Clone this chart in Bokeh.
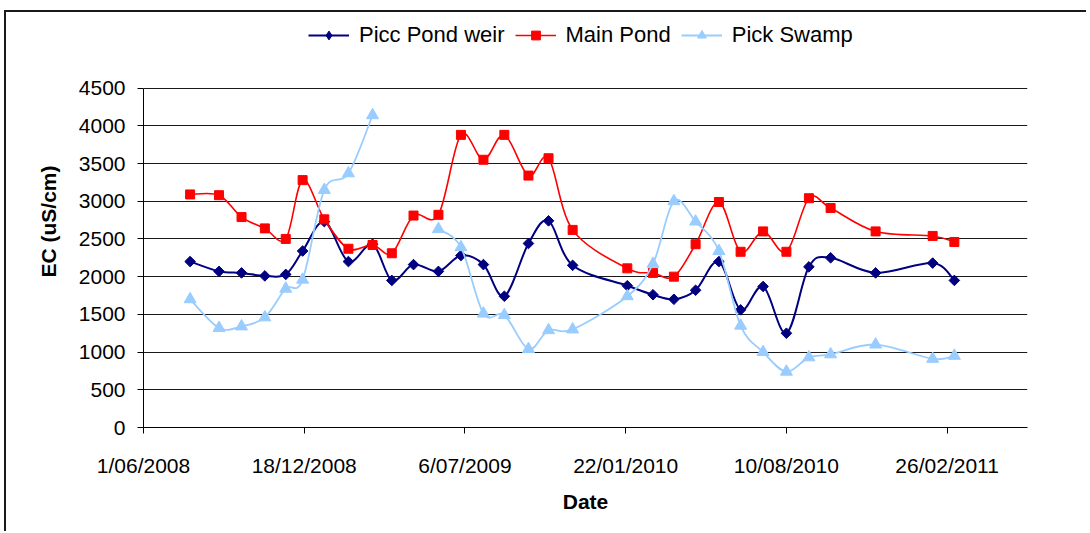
import math
import numpy as np
import pandas as pd
from bokeh.plotting import figure
from bokeh.models import (ColumnDataSource, FixedTicker, CustomJSTickFormatter, Range1d,
                          Legend, LegendItem)
from bokeh.embed import file_html
from bokeh.resources import INLINE

# ---------------- data ----------------
dates = ["2008-07-29", "2008-09-03", "2008-10-01", "2008-10-30", "2008-11-25", "2008-12-16",
         "2009-01-12", "2009-02-11", "2009-03-13", "2009-04-06", "2009-05-03", "2009-06-03",
         "2009-07-01", "2009-07-29", "2009-08-24", "2009-09-23", "2009-10-18", "2009-11-17",
         "2010-01-24", "2010-02-25", "2010-03-23", "2010-04-19", "2010-05-18", "2010-06-14",
         "2010-07-12", "2010-08-10", "2010-09-07", "2010-10-04", "2010-11-29", "2011-02-08",
         "2011-03-07"]
picc_pond_weir = [2200, 2070, 2050, 2010, 2030, 2340, 2730, 2200, 2430, 1950, 2160, 2070,
                  2280, 2160, 1740, 2440, 2740, 2150, 1880, 1760, 1700, 1820, 2200, 1560,
                  1870, 1250, 2130, 2250, 2050, 2180, 1950]
main_pond = [3090, 3080, 2790, 2640, 2500, 3280, 2760, 2370, 2420, 2310, 2810, 2820,
             3880, 3550, 3880, 3340, 3570, 2620, 2110, 2050, 2000, 2430, 2990, 2330,
             2600, 2330, 3040, 2910, 2600, 2540, 2460]
pick_swamp = [1700, 1320, 1340, 1460, 1840, 1960, 3150, 3370, 4140, None, None, 2630,
              2390, 1510, 1490, 1040, 1290, 1300, 1740, 2170, 3000, 2730, 2340, 1350,
              1000, 740, 930, 970, 1100, 910, 950]
series_names = ["Picc Pond weir", "Main Pond", "Pick Swamp"]
x_tick_labels = ["1/06/2008", "18/12/2008", "6/07/2009", "22/01/2010", "10/08/2010", "26/02/2011"]
y_ticks = [0, 500, 1000, 1500, 2000, 2500, 3000, 3500, 4000, 4500]
x_start = "2008-06-01"
x_end = "2011-06-06"

# ---------------- helpers ----------------
def to_ms(s):
    return pd.Timestamp(s).value / 1e6

xs = [to_ms(d) for d in dates]
tick_ms = [pd.Timestamp(pd.to_datetime(t, format="%d/%m/%Y")).value / 1e6 for t in x_tick_labels]


def bezier_source(xv, yv):
    cols = dict(x0=[], y0=[], x1=[], y1=[], cx0=[], cy0=[], cx1=[], cy1=[])
    runs, cur = [], []
    for x, y in zip(xv, yv):
        if y is None:
            if cur:
                runs.append(cur)
            cur = []
        else:
            cur.append((x, y))
    if cur:
        runs.append(cur)
    for run in runs:
        n = len(run)
        for i in range(n - 1):
            p0 = run[i - 1] if i > 0 else run[i]
            p1 = run[i]
            p2 = run[i + 1]
            p3 = run[i + 2] if i + 2 < n else run[i + 1]
            cols["x0"].append(p1[0]); cols["y0"].append(p1[1])
            cols["x1"].append(p2[0]); cols["y1"].append(p2[1])
            cols["cx0"].append(p1[0] + (p2[0] - p0[0]) / 6.0)
            cols["cy0"].append(p1[1] + (p2[1] - p0[1]) / 6.0)
            cols["cx1"].append(p2[0] - (p3[0] - p1[0]) / 6.0)
            cols["cy1"].append(p2[1] - (p3[1] - p1[1]) / 6.0)
    return ColumnDataSource(cols)


def point_source(xv, yv):
    px = [x for x, y in zip(xv, yv) if y is not None]
    py = [y for y in yv if y is not None]
    return ColumnDataSource(dict(x=px, y=py))

# ---------------- layout (pixels) ----------------
FONT = "Liberation Sans"
W, H = 1082, 521
B_LEFT, B_RIGHT, B_TOP, B_BOTTOM = 137, 61, 3, 106
FRAME_H = H - B_TOP - B_BOTTOM          # frame extends up to hold the legend
AXIS_PX = 339.4                          # pixel height of the 0..4500 value span
y_top = y_ticks[-1] * FRAME_H / AXIS_PX

p = figure(width=W, height=H, x_axis_type="datetime",
           x_range=Range1d(to_ms(x_start), to_ms(x_end)), y_range=Range1d(0, y_top),
           output_backend="svg", toolbar_location=None,
           min_border_left=B_LEFT, min_border_right=B_RIGHT,
           min_border_top=B_TOP, min_border_bottom=B_BOTTOM)
p.styles = {"margin-top": "10px", "margin-left": "4px",
            "border-top": "2px solid #1a1a1a", "border-left": "2px solid #1a1a1a"}
p.outline_line_color = None
p.background_fill_color = "white"
p.border_fill_color = "white"

p.xgrid.visible = False
p.ygrid.grid_line_color = "#1a1a1a"
p.ygrid.grid_line_width = 1

p.yaxis.ticker = FixedTicker(ticks=y_ticks)
p.yaxis.bounds = (y_ticks[0], y_ticks[-1])
p.xaxis.ticker = FixedTicker(ticks=tick_ms)
p.xaxis.formatter = CustomJSTickFormatter(args=dict(tick_vals=tick_ms, tick_labels=x_tick_labels), code="""
const i = tick_vals.findIndex(t => Math.abs(t - tick) < 1000);
return i >= 0 ? tick_labels[i] : "";
""")

for ax in (p.xaxis[0], p.yaxis[0]):
    ax.axis_line_color = "black"
    ax.axis_line_width = 1
    ax.major_tick_line_color = "black"
    ax.major_tick_in = 0
    ax.major_tick_out = 6
    ax.minor_tick_line_color = None
    ax.major_label_text_font = FONT
    ax.major_label_text_font_size = "21px"
    ax.major_label_text_color = "black"
    ax.axis_label_text_font = FONT
    ax.axis_label_text_font_size = "21px"
    ax.axis_label_text_font_style = "bold"
    ax.axis_label_text_color = "black"

p.xaxis.axis_label = "Date"
p.yaxis.axis_label = "EC (uS/cm)"
p.xaxis.major_label_standoff = 20
p.xaxis.axis_label_standoff = 10
p.yaxis.major_label_standoff = 12
p.yaxis.axis_label_standoff = 16

styles = [
    (picc_pond_weir, "#000080", 2.0, dict(marker="square", size=7.5, angle=math.pi / 4),
     dict(marker="diamond", size=12)),
    (main_pond, "#FF0000", 1.6, dict(marker="square", size=9), None),
    (pick_swamp, "#99CCFF", 1.8, dict(marker="triangle", size=12), None),
]

items = []
for name, (vals, color, lw, mk, legend_mk) in zip(series_names, styles):
    bz = p.bezier(x0="x0", y0="y0", x1="x1", y1="y1", cx0="cx0", cy0="cy0", cx1="cx1", cy1="cy1",
                  source=bezier_source(xs, vals), line_color=color, line_width=lw)
    sc = p.scatter(x="x", y="y", source=point_source(xs, vals), fill_color=color,
                   line_color=color, line_width=1, **mk)
    if legend_mk is not None:
        # legend-only marker: one row with a missing value, so nothing is drawn in the plot
        lg = p.scatter(x="x", y="y", source=ColumnDataSource(dict(x=[xs[0]], y=[float("nan")])),
                       fill_color=color, line_color=color, line_width=1, **legend_mk)
        items.append(LegendItem(label=name, renderers=[bz, lg]))
    else:
        items.append(LegendItem(label=name, renderers=[bz, sc]))

legend = Legend(items=items, orientation="horizontal", location=(165, 379),
                glyph_width=41, glyph_height=22, label_standoff=10, spacing=10,
                padding=0, margin=0, border_line_color=None, background_fill_alpha=0,
                label_text_font=FONT, label_text_font_size="22px", label_text_color="black")
p.add_layout(legend, "center")

open("out.html", "w").write(file_html(p, INLINE))
